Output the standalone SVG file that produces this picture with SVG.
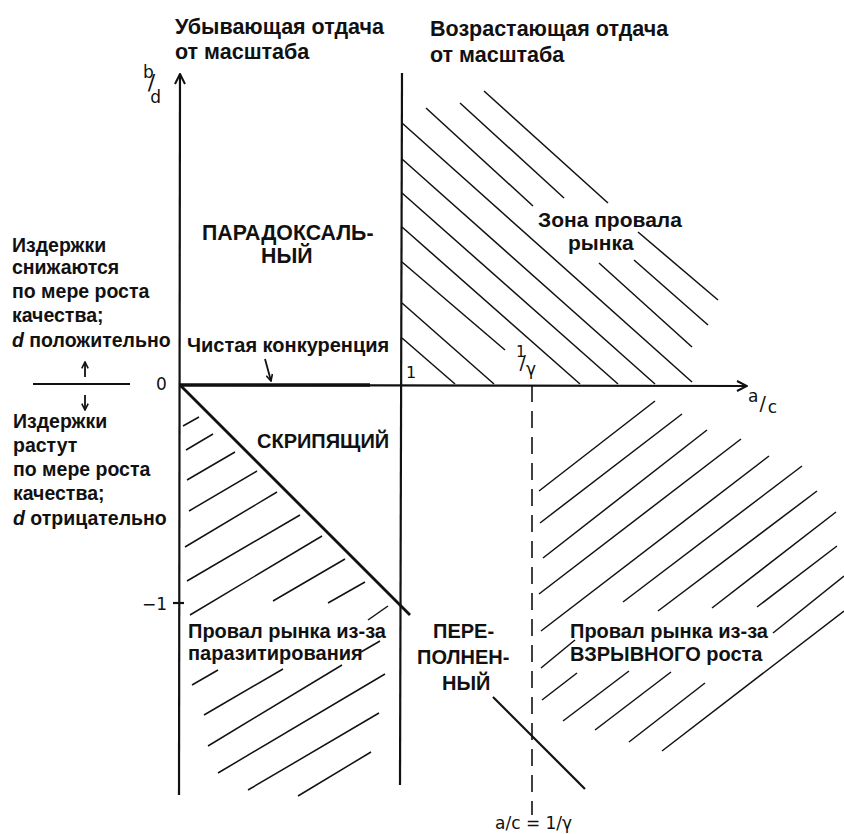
<svg xmlns="http://www.w3.org/2000/svg" width="844" height="834" viewBox="0 0 844 834">
<style>
.t{font-family:"Liberation Sans",Arial,sans-serif;font-weight:bold;font-size:20px;fill:#111}
.hd{font-size:21.5px}
.ln{font-size:19.5px}
.a{font-family:"DejaVu Sans","Liberation Sans",sans-serif;font-size:17px;fill:#111}
.ax{stroke:#111;stroke-width:2.2;fill:none}
.h{stroke:#111;stroke-width:1.5;fill:none}
.d{stroke:#111;stroke-width:1.6;fill:none;stroke-dasharray:17 9}
</style>
<defs>
<marker id="chev" viewBox="0 0 12 12" refX="11" refY="6" markerWidth="12" markerHeight="12" markerUnits="userSpaceOnUse" orient="auto">
<path d="M1,1 L11,6 L1,11" fill="none" stroke="#111" stroke-width="2"/>
</marker>
<marker id="sm" viewBox="0 0 10 10" refX="9" refY="5" markerWidth="8" markerHeight="8" markerUnits="userSpaceOnUse" orient="auto">
<path d="M1,1 L9,5 L1,9" fill="none" stroke="#111" stroke-width="2"/>
</marker>
</defs>
<rect width="844" height="834" fill="#fff"/>

<g id="hatch-upper-right" class="h">
<line x1="402" y1="338" x2="455" y2="384"/>
<line x1="402" y1="303" x2="494" y2="384"/>
<line x1="402" y1="262" x2="505" y2="350"/>
<line x1="402" y1="227" x2="580" y2="384"/>
<line x1="402" y1="193" x2="618" y2="384"/>
<line x1="402" y1="159" x2="655" y2="384"/>
<line x1="402" y1="123" x2="692" y2="382"/>
<line x1="426" y1="108" x2="533" y2="206"/>
<line x1="599" y1="263" x2="692" y2="347"/>
<line x1="460" y1="103" x2="564" y2="198"/>
<line x1="634" y1="260" x2="708" y2="325"/>
<line x1="484" y1="91" x2="608" y2="203"/>
<line x1="638" y1="232" x2="718" y2="300"/>
</g>

<g id="hatch-lower-left" class="h">
<line x1="183" y1="426" x2="199" y2="417"/>
<line x1="186" y1="450" x2="213" y2="434"/>
<line x1="187" y1="480" x2="235" y2="452"/>
<line x1="189" y1="511" x2="257" y2="471"/>
<line x1="185" y1="547" x2="277" y2="492"/>
<line x1="187" y1="581" x2="300" y2="515"/>
<line x1="190" y1="615" x2="322" y2="536"/>
<line x1="273" y1="601" x2="345" y2="559"/>
<line x1="192" y1="685" x2="218" y2="670"/>
<line x1="328" y1="603" x2="365" y2="582"/>
<line x1="204" y1="715" x2="283" y2="669"/>
<line x1="368" y1="620" x2="388" y2="606"/>
<line x1="208" y1="746" x2="342" y2="665"/>
<line x1="361" y1="652" x2="380" y2="641"/>
<line x1="218" y1="773" x2="385" y2="674"/>
<line x1="248" y1="790" x2="379" y2="713"/>
<line x1="298" y1="796" x2="371" y2="752"/>
</g>

<g id="hatch-lower-right" class="h">
<line x1="539" y1="491" x2="655" y2="401"/>
<line x1="540" y1="523" x2="682" y2="414"/>
<line x1="543" y1="558" x2="707" y2="430"/>
<line x1="539" y1="594" x2="741" y2="439"/>
<line x1="541" y1="631" x2="769" y2="456"/>
<line x1="541" y1="668" x2="575" y2="640"/>
<line x1="623" y1="602" x2="802" y2="466"/>
<line x1="542" y1="700" x2="577" y2="673"/>
<line x1="658" y1="611" x2="817" y2="491"/>
<line x1="563" y1="721" x2="629" y2="671"/>
<line x1="712" y1="608" x2="836" y2="512"/>
<line x1="595" y1="730" x2="671" y2="672"/>
<line x1="757" y1="607" x2="837" y2="546"/>
<line x1="629" y1="742" x2="705" y2="683"/>
<line x1="773" y1="633" x2="844" y2="576"/>
<line x1="662" y1="751" x2="844" y2="611"/>
</g>

<g id="axes">
<line class="ax" x1="179" y1="795" x2="180" y2="74" marker-end="url(#chev)"/>
<line class="ax" x1="180" y1="385" x2="747" y2="386" marker-end="url(#chev)"/>
<line class="ax" x1="402" y1="73" x2="400" y2="785"/>
<line class="ax" x1="33" y1="384" x2="130" y2="384" stroke-width="1.8"/>
<line x1="180" y1="385" x2="370" y2="385" stroke="#111" stroke-width="3.6"/>
<line class="ax" x1="173" y1="603" x2="184" y2="603" stroke-width="1.8"/>
<line class="d" x1="532" y1="385" x2="532" y2="815"/>
<line x1="180" y1="385" x2="410" y2="615" stroke="#111" stroke-width="2.8"/>
<line x1="493" y1="697" x2="585" y2="789" stroke="#111" stroke-width="2.2"/>
</g>

<g id="arrows" fill="none" stroke="#111" stroke-width="1.8">
<line x1="85" y1="377" x2="85" y2="362" marker-end="url(#sm)"/>
<line x1="85" y1="395" x2="85" y2="410" marker-end="url(#sm)"/>
<line x1="265" y1="359" x2="271" y2="381" marker-end="url(#sm)"/>
</g>

<g id="axis-labels" class="a">
<text x="143" y="78">b<tspan dx="-6" dy="12" font-size="22">/</tspan><tspan dx="-5" dy="13">d</tspan></text>
<text x="748" y="402">a<tspan dx="1" dy="8" font-size="19">/</tspan><tspan dx="2" dy="3">c</tspan></text>
<text x="156" y="390">0</text>
<text x="406" y="378" font-size="16">1</text>
<text x="516" y="357" font-size="15">1<tspan dx="-6" dy="12" font-size="19">/</tspan><tspan dx="0" dy="6" font-size="17">γ</tspan></text>
<text x="142" y="610">−1</text>
<text x="495" y="829">a/c = 1/γ</text>
</g>

<g id="headings" class="t hd">
<text x="175" y="34">Убывающая отдача</text>
<text x="175" y="59">от масштаба</text>
<text x="430" y="36">Возрастающая отдача</text>
<text x="430" y="62">от масштаба</text>
</g>

<g id="left-notes" class="t ln">
<text x="12" y="252">Издержки</text>
<text x="12" y="274">снижаются</text>
<text x="12" y="298">по мере роста</text>
<text x="12" y="322">качества;</text>
<text x="12" y="347"><tspan font-style="italic">d</tspan> положительно</text>
<text x="13" y="428">Издержки</text>
<text x="13" y="452">растут</text>
<text x="13" y="476">по мере роста</text>
<text x="13" y="500">качества;</text>
<text x="13" y="525"><tspan font-style="italic">d</tspan> отрицательно</text>
</g>

<g id="region-labels" class="t">
<text x="202" y="240" font-size="21.3">ПАРАДОКСАЛЬ-</text>
<text x="261" y="263" font-size="21.3">НЫЙ</text>
<text x="187" y="352">Чистая конкуренция</text>
<text x="538" y="227" font-size="21">Зона провала</text>
<text x="568" y="250" font-size="21">рынка</text>
<text x="257" y="448">СКРИПЯЩИЙ</text>
<text x="188" y="638">Провал рынка из-за</text>
<text x="188" y="660">паразитирования</text>
<text x="433" y="638">ПЕРЕ-</text>
<text x="417" y="664">ПОЛНЕН-</text>
<text x="442" y="690">НЫЙ</text>
<text x="570" y="638">Провал рынка из-за</text>
<text x="570" y="661">ВЗРЫВНОГО роста</text>
</g>
</svg>
